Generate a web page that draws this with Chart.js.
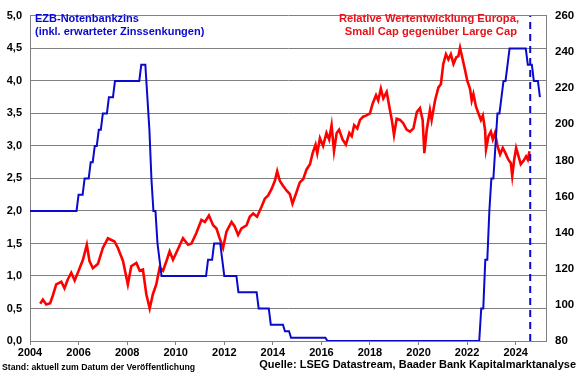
<!DOCTYPE html>
<html>
<head>
<meta charset="utf-8">
<script src="https://cdn.jsdelivr.net/npm/chart.js@4.4.1/dist/chart.umd.min.js"></script>
<style>
html,body{margin:0;padding:0;background:#fff;}
#wrap{width:580px;height:375px;position:relative;}
</style>
</head>
<body>
<div id="wrap"><canvas id="c" width="580" height="375"></canvas></div>
<script>
// ---- Data ----
const xTicks = [2004, 2006, 2008, 2010, 2012, 2014, 2016, 2018, 2020, 2022, 2024];
const leftTicks = [0, 0.5, 1, 1.5, 2, 2.5, 3, 3.5, 4, 4.5, 5];
const rightTicks = [80, 100, 120, 140, 160, 180, 200, 220, 240, 260];

// ECB main refinancing rate incl. expected cuts (%), left axis
const rateYears = [2004.0, 2005.917, 2006.0, 2006.167, 2006.25, 2006.417, 2006.5, 2006.583, 2006.667, 2006.75, 2006.833, 2006.917, 2007.0, 2007.167, 2007.25, 2007.417, 2007.5, 2008.5, 2008.583, 2008.75, 2008.833, 2008.917, 2009.0, 2009.083, 2009.167, 2009.25, 2009.333, 2009.417, 2011.25, 2011.333, 2011.5, 2011.583, 2011.833, 2011.917, 2012.0, 2012.5, 2012.583, 2013.333, 2013.417, 2013.833, 2013.917, 2014.417, 2014.5, 2014.667, 2014.75, 2016.167, 2016.25, 2022.5, 2022.583, 2022.667, 2022.75, 2022.833, 2022.917, 2023.0, 2023.083, 2023.167, 2023.25, 2023.333, 2023.417, 2023.5, 2023.583, 2023.667, 2023.75, 2024.417, 2024.5, 2024.667, 2024.75, 2024.917, 2025.0];
const rateValues = [2.0, 2.0, 2.25, 2.25, 2.5, 2.5, 2.75, 2.75, 3.0, 3.0, 3.25, 3.25, 3.5, 3.5, 3.75, 3.75, 4.0, 4.0, 4.25, 4.25, 3.75, 3.25, 2.5, 2.0, 2.0, 1.5, 1.25, 1.0, 1.0, 1.25, 1.25, 1.5, 1.5, 1.25, 1.0, 1.0, 0.75, 0.75, 0.5, 0.5, 0.25, 0.25, 0.15, 0.15, 0.05, 0.05, 0.0, 0.0, 0.5, 0.5, 1.25, 1.25, 2.0, 2.5, 2.5, 3.0, 3.5, 3.5, 3.75, 4.0, 4.0, 4.25, 4.5, 4.5, 4.25, 4.25, 4.0, 4.0, 3.75];

// Relative performance Europe Small Cap vs Large Cap, right axis
const relYears = [2004.42, 2004.53, 2004.67, 2004.83, 2004.94, 2005.08, 2005.29, 2005.42, 2005.56, 2005.70, 2005.84, 2005.97, 2006.18, 2006.34, 2006.45, 2006.59, 2006.80, 2007.00, 2007.21, 2007.48, 2007.62, 2007.83, 2008.03, 2008.17, 2008.38, 2008.52, 2008.65, 2008.79, 2008.93, 2009.06, 2009.20, 2009.34, 2009.48, 2009.62, 2009.75, 2009.89, 2010.10, 2010.30, 2010.51, 2010.65, 2010.85, 2011.06, 2011.20, 2011.37, 2011.54, 2011.68, 2011.81, 2011.95, 2012.09, 2012.30, 2012.43, 2012.57, 2012.71, 2012.92, 2013.05, 2013.19, 2013.35, 2013.53, 2013.67, 2013.81, 2013.95, 2014.08, 2014.18, 2014.29, 2014.42, 2014.57, 2014.70, 2014.81, 2014.95, 2015.11, 2015.25, 2015.39, 2015.53, 2015.64, 2015.76, 2015.83, 2015.94, 2016.07, 2016.21, 2016.32, 2016.42, 2016.52, 2016.63, 2016.73, 2016.87, 2017.01, 2017.15, 2017.25, 2017.35, 2017.48, 2017.59, 2017.72, 2017.86, 2018.00, 2018.11, 2018.25, 2018.34, 2018.45, 2018.55, 2018.69, 2018.80, 2018.90, 2018.99, 2019.10, 2019.24, 2019.37, 2019.51, 2019.65, 2019.79, 2019.93, 2020.06, 2020.17, 2020.24, 2020.34, 2020.47, 2020.54, 2020.68, 2020.82, 2020.92, 2021.02, 2021.13, 2021.23, 2021.33, 2021.44, 2021.55, 2021.64, 2021.71, 2021.82, 2021.92, 2022.01, 2022.12, 2022.19, 2022.26, 2022.37, 2022.47, 2022.57, 2022.65, 2022.74, 2022.78, 2022.88, 2022.98, 2023.06, 2023.15, 2023.25, 2023.36, 2023.47, 2023.58, 2023.70, 2023.80, 2023.86, 2023.94, 2024.02, 2024.12, 2024.21, 2024.32, 2024.43, 2024.50, 2024.57];
const relValues = [100.6, 102.9, 100.2, 100.9, 105.2, 111.3, 112.8, 109.2, 114.2, 117.8, 113.5, 117.8, 125.0, 133.3, 124.3, 120.3, 122.8, 131.5, 136.9, 135.1, 131.5, 124.3, 111.3, 121.4, 123.2, 118.9, 119.6, 105.9, 98.0, 105.9, 111.3, 120.7, 118.9, 124.3, 129.7, 125.0, 131.1, 136.9, 133.3, 134.0, 139.8, 147.0, 145.9, 149.5, 144.1, 142.3, 136.9, 131.5, 140.5, 145.9, 143.4, 138.7, 142.3, 144.1, 148.8, 150.6, 148.8, 154.2, 158.8, 160.6, 164.2, 168.6, 174.0, 168.6, 166.0, 163.2, 161.4, 156.0, 161.4, 167.8, 169.6, 175.0, 177.9, 184.0, 188.7, 184.0, 192.3, 188.0, 195.2, 191.6, 199.5, 185.1, 195.2, 197.0, 191.6, 188.7, 195.2, 193.4, 199.5, 197.7, 202.4, 204.2, 204.9, 206.0, 211.4, 216.1, 213.2, 219.7, 214.3, 217.9, 209.6, 202.4, 194.1, 203.1, 202.4, 200.6, 197.0, 195.9, 197.7, 206.7, 208.9, 202.4, 184.0, 197.0, 207.8, 202.4, 213.2, 220.4, 222.2, 233.4, 238.8, 235.9, 238.8, 233.4, 237.0, 237.7, 242.4, 235.9, 229.8, 224.0, 219.7, 213.2, 216.8, 209.6, 206.0, 202.4, 204.9, 197.0, 186.2, 193.4, 195.9, 191.6, 195.2, 188.0, 183.3, 186.9, 184.0, 180.4, 178.6, 171.4, 180.4, 186.9, 182.2, 177.9, 179.7, 182.2, 180.4, 185.1];

// Publication date marker (vertical dashed line)
const markerYear = 2024.6;

// ---- Styles ----
const BLUE = '#0A0ACD';
const RED = '#FF0000';
const GRID = '#808080';
const FONT = '"Liberation Sans", Arial, sans-serif';

const toXY = (xs, ys) => xs.map((x, i) => ({x: x, y: ys[i]}));

const textPlugin = {
  id: 'texts',
  afterDraw(chart) {
    const ctx = chart.ctx;
    ctx.save();
    ctx.textBaseline = 'middle';
    ctx.font = 'bold 11px ' + FONT;
    ctx.fillStyle = BLUE;
    ctx.textAlign = 'left';
    ctx.fillText('EZB-Notenbankzins', 35, 19);
    ctx.fillText('(inkl. erwarteter Zinssenkungen)', 35, 32);
    ctx.fillStyle = '#E8141C';
    ctx.textAlign = 'right';
    ctx.font = 'bold 11.2px ' + FONT;
    ctx.fillText('Relative Wertentwicklung Europa,', 519, 19);
    ctx.fillText('Small Cap gegenüber Large Cap', 517, 32);
    ctx.fillStyle = '#000';
    ctx.textAlign = 'left';
    ctx.font = 'bold 8.7px ' + FONT;
    ctx.fillText('Stand: aktuell zum Datum der Veröffentlichung', 2, 368);
    ctx.textAlign = 'right';
    ctx.font = 'bold 11px ' + FONT;
    ctx.fillText('Quelle: LSEG Datastream, Baader Bank Kapitalmarktanalyse', 576, 365);
    ctx.restore();
  }
};

new Chart(document.getElementById('c'), {
  type: 'scatter',
  data: {
    datasets: [
      {
        label: 'marker',
        data: [{x: markerYear, y: 0}, {x: markerYear, y: 5}],
        yAxisID: 'y',
        showLine: true,
        borderColor: BLUE,
        borderWidth: 2,
        borderDash: [7, 5],
        pointRadius: 0
      },
      {
        label: 'EZB-Notenbankzins',
        data: toXY(rateYears, rateValues),
        yAxisID: 'y',
        showLine: true,
        borderColor: BLUE,
        borderWidth: 2,
        pointRadius: 0,
        tension: 0
      },
      {
        label: 'Small Cap vs Large Cap',
        data: toXY(relYears, relValues),
        yAxisID: 'y1',
        showLine: true,
        borderColor: RED,
        borderWidth: 2.6,
        pointRadius: 0,
        tension: 0
      }
    ]
  },
  options: {
    responsive: false,
    animation: false,
    layout: {padding: {top: 11, left: 0, right: 0, bottom: 0}},
    plugins: {legend: {display: false}, tooltip: {enabled: false}},
    scales: {
      x: {
        type: 'linear',
        min: 2004,
        max: 2025.25,
        afterBuildTicks: s => { s.ticks = xTicks.map(v => ({value: v})); },
        afterFit: s => { s.height = 34; },
        ticks: {
          callback: v => String(v),
          color: '#000',
          font: {family: FONT, size: 11, weight: 'bold'},
          padding: 1,
          maxRotation: 0,
          autoSkip: false
        },
        grid: {drawOnChartArea: false, drawTicks: true, tickLength: 4, color: GRID},
        border: {color: GRID, width: 1}
      },
      y: {
        position: 'left',
        min: 0,
        max: 5,
        afterBuildTicks: s => { s.ticks = leftTicks.map(v => ({value: v})); },
        afterFit: s => { s.width = 30; },
        ticks: {
          callback: v => v.toFixed(1).replace('.', ','),
          color: '#000',
          font: {family: FONT, size: 11, weight: 'bold'},
          padding: 8
        },
        grid: {color: GRID, lineWidth: 1, drawTicks: false},
        border: {color: GRID, width: 1}
      },
      y1: {
        position: 'right',
        min: 80,
        max: 260,
        afterBuildTicks: s => { s.ticks = rightTicks.map(v => ({value: v})); },
        afterFit: s => { s.width = 34; },
        ticks: {
          callback: v => String(v),
          color: '#000',
          font: {family: FONT, size: 11.5, weight: 'bold'},
          padding: 9
        },
        grid: {display: false, drawTicks: false},
        border: {display: true, color: GRID, width: 1}
      }
    }
  },
  plugins: [textPlugin]
});
</script>
</body>
</html>
